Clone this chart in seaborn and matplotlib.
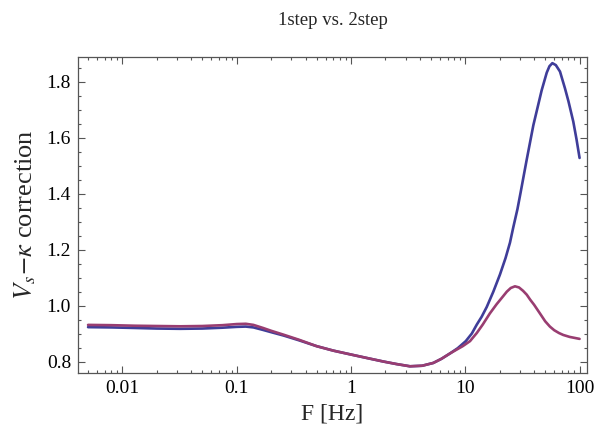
import numpy as np
import pandas as pd
import matplotlib
matplotlib.use("Agg")
import matplotlib.pyplot as plt
import matplotlib.ticker as mticker
import seaborn as sns

# Site correction versus frequency for the two inversion schemes
freq_1step = [0.005, 0.008, 0.013, 0.02, 0.032, 0.05, 0.075, 0.1, 0.12, 0.14, 0.17, 0.2,
              0.257, 0.35, 0.5, 0.7, 1.0, 1.4, 1.92, 2.5, 3.28, 4.2, 5.25, 6.2, 7.35,
              8.6, 10.1, 11.4, 12.6, 13.9, 15.4, 17.6, 20.1, 22.5, 24.6, 26.3, 28.6,
              30.5, 32.3, 34.4, 39.4, 46.6, 51.6, 54.5, 57.8, 62.0, 67.4, 74.5, 80.0,
              88.1, 94.0, 100.0]
corr_1step = [0.923, 0.922, 0.920, 0.918, 0.917, 0.918, 0.921, 0.924, 0.925, 0.922, 0.913, 0.905,
              0.893, 0.876, 0.855, 0.839, 0.825, 0.812, 0.800, 0.791, 0.783, 0.785, 0.795, 0.810, 0.829,
              0.848, 0.873, 0.900, 0.932, 0.960, 0.995, 1.050, 1.111, 1.170, 1.225, 1.280, 1.345,
              1.405, 1.460, 1.520, 1.645, 1.770, 1.833, 1.856, 1.867, 1.860, 1.837, 1.777, 1.730,
              1.658, 1.595, 1.528]

freq_2step = [0.005, 0.008, 0.013, 0.02, 0.032, 0.05, 0.075, 0.1, 0.12, 0.14, 0.17, 0.2,
              0.257, 0.35, 0.5, 0.7, 1.0, 1.4, 1.92, 2.5, 3.28, 4.2, 5.25, 6.2, 7.35,
              8.6, 9.5, 11.0, 12.6, 14.2, 16.4, 18.8, 20.8, 23.1, 25.0, 27.2, 29.5, 32.0,
              34.5, 37.0, 40.0, 45.0, 50.0, 55.0, 60.0, 66.0, 72.0, 82.0, 100.0]
corr_2step = [0.931, 0.930, 0.928, 0.927, 0.926, 0.927, 0.930, 0.934, 0.935, 0.931, 0.920, 0.910,
              0.896, 0.878, 0.855, 0.839, 0.825, 0.812, 0.800, 0.791, 0.783, 0.785, 0.795, 0.810, 0.829,
              0.845, 0.855, 0.873, 0.902, 0.932, 0.972, 1.005, 1.027, 1.050, 1.063, 1.069, 1.065, 1.053,
              1.039, 1.021, 1.003, 0.972, 0.944, 0.925, 0.912, 0.902, 0.895, 0.888, 0.881]

series_names = ["1step", "2step"]
series_colors = [(0.247, 0.24, 0.6), (0.6, 0.24, 0.443)]

df = pd.concat([
    pd.DataFrame({"F": freq_1step, "corr": corr_1step, "scheme": series_names[0]}),
    pd.DataFrame({"F": freq_2step, "corr": corr_2step, "scheme": series_names[1]}),
], ignore_index=True)

sns.set_style("ticks")
plt.rcParams["font.family"] = ["Liberation Serif", "DejaVu Serif"]
plt.rcParams["mathtext.fontset"] = "stix"

fig = plt.figure(figsize=(5.95, 4.37), dpi=100)
ax = fig.add_axes([78 / 595, 1 - 373 / 437, (587 - 78) / 595, (373 - 57) / 437])

sns.lineplot(data=df, x="F", y="corr", hue="scheme", hue_order=series_names,
             palette=series_colors, linewidth=1.9, legend=False, ax=ax, sort=False)
for ln in ax.lines:
    ln.set_solid_joinstyle("round")
    ln.set_solid_capstyle("round")

ax.set_xscale("log")
ax.set_xlim(10 ** -2.389, 10 ** 2.065)
ax.set_ylim(0.759, 1.889)

ax.xaxis.set_major_locator(mticker.FixedLocator([0.01, 0.1, 1, 10, 100]))
ax.xaxis.set_major_formatter(mticker.FixedFormatter(["0.01", "0.1", "1", "10", "100"]))
ax.xaxis.set_minor_locator(mticker.LogLocator(base=10, subs=np.arange(2, 10), numticks=20))
ax.xaxis.set_minor_formatter(mticker.NullFormatter())
ax.yaxis.set_major_locator(mticker.MultipleLocator(0.2))
ax.yaxis.set_major_formatter(mticker.FormatStrFormatter("%.1f"))
ax.yaxis.set_minor_locator(mticker.MultipleLocator(0.05))

frame_color = "#555555"
for sp in ax.spines.values():
    sp.set_visible(True)
    sp.set_color(frame_color)
    sp.set_linewidth(0.9)

ax.tick_params(which="both", direction="in", top=True, right=True,
               color=frame_color, width=0.8, labelsize=14, labelcolor="black")
ax.tick_params(which="major", length=5, pad=5)
ax.tick_params(which="minor", length=2.5)

ax.set_xlabel("F [Hz]", fontsize=17, labelpad=5)
ax.set_ylabel(r"$V_s\!-\!\kappa$ correction", fontsize=19, labelpad=6)
ax.set_title("1step vs. 2step", fontsize=13.5, pad=23)

fig.savefig("out.png", dpi=100)
